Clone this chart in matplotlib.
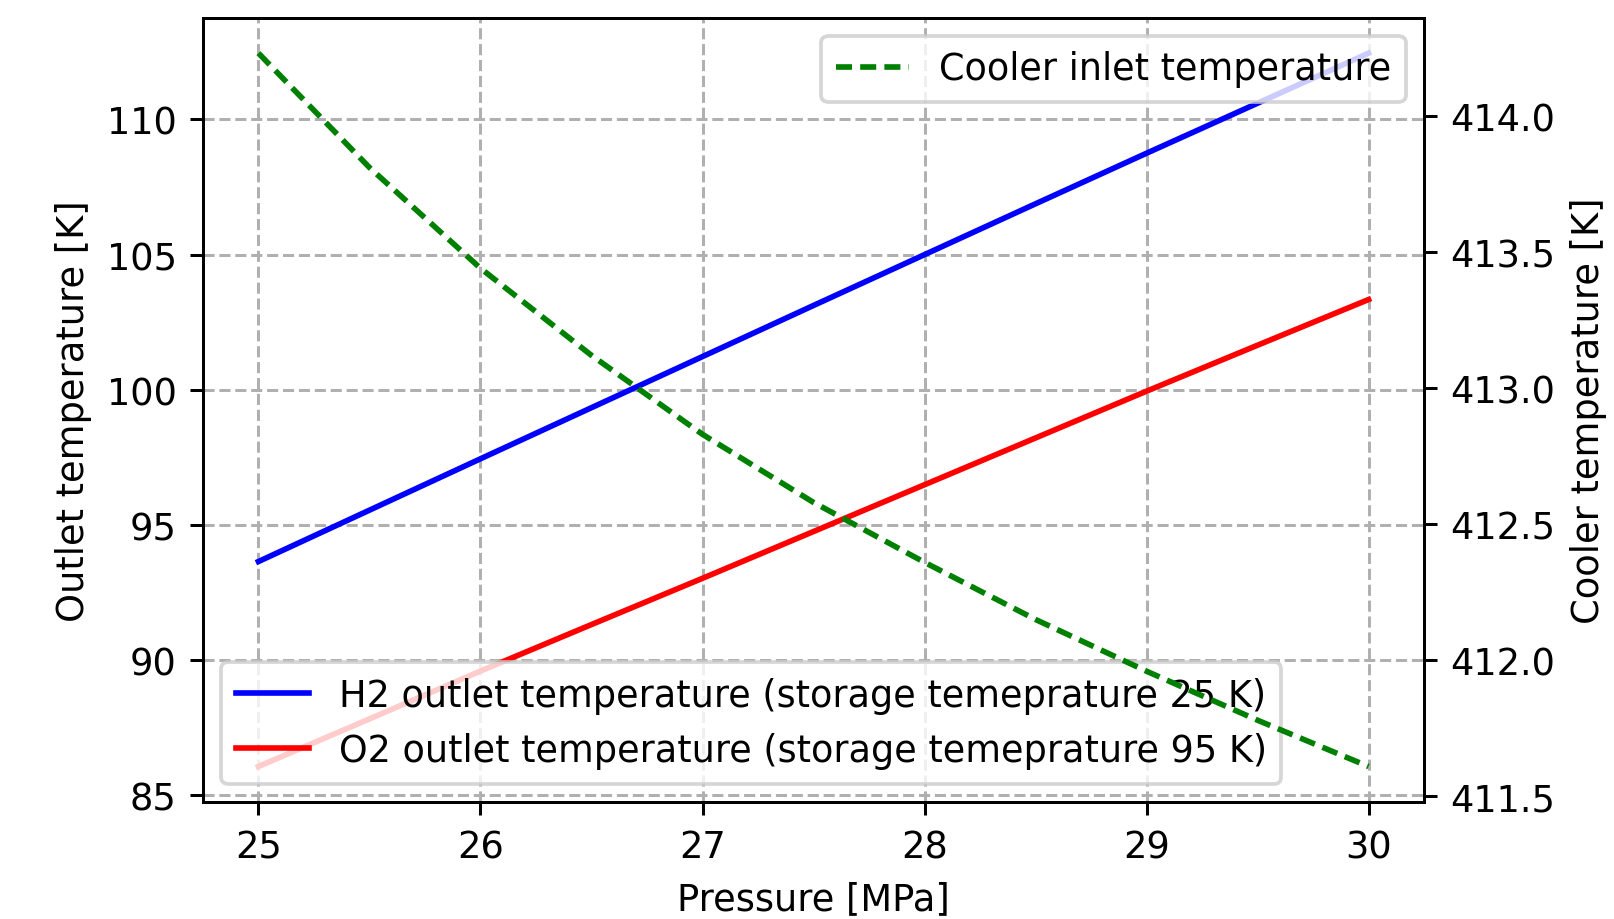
import numpy as np
import matplotlib
matplotlib.use("Agg")
import matplotlib.pyplot as plt

plt.rcParams['font.size'] = 9.8

# pressure [MPa]
pressure = [25.0, 25.5, 26.0, 26.5, 27.0, 27.5, 28.0, 28.5, 29.0, 29.5, 30.0]
# outlet temperatures [K]
h2_out = [93.65, 95.55, 97.45, 99.34, 101.23, 103.12, 105.0, 106.88, 108.75, 110.6, 112.45]
o2_out = [86.07, 87.83, 89.6, 91.32, 93.03, 94.76, 96.49, 98.22, 99.95, 101.65, 103.34]
# cooler inlet temperature [K]
cooler_in = [414.23, 413.81, 413.44, 413.12, 412.83, 412.58, 412.36, 412.15, 411.96, 411.78, 411.61]

fig, ax1 = plt.subplots(figsize=(5.98, 3.407), dpi=270)
fig.subplots_adjust(left=0.1257, right=0.882, top=0.980, bottom=0.127)

ax1.plot(pressure, h2_out, color='b', label='H2 outlet temperature (storage temeprature 25 K)')
ax1.plot(pressure, o2_out, color='r', label='O2 outlet temperature (storage temeprature 95 K)')
ax1.set_xlabel('Pressure [MPa]')
ax1.set_ylabel('Outlet temperature [K]')
ax1.set_yticks([85, 90, 95, 100, 105, 110])
ax1.grid(ls='--', color='#b0b0b0')
ax1.legend(loc='lower left', fontsize=9.78)

ax2 = ax1.twinx()
ax2.plot(pressure, cooler_in, color='g', ls='--', dashes=(2.85, 1.45), label='Cooler inlet temperature')
ax2.set_ylabel('Cooler temperature [K]')
ax2.set_yticks([411.5, 412.0, 412.5, 413.0, 413.5, 414.0])
ax2.legend(loc='upper right', fontsize=9.78)

plt.savefig('out.png')
